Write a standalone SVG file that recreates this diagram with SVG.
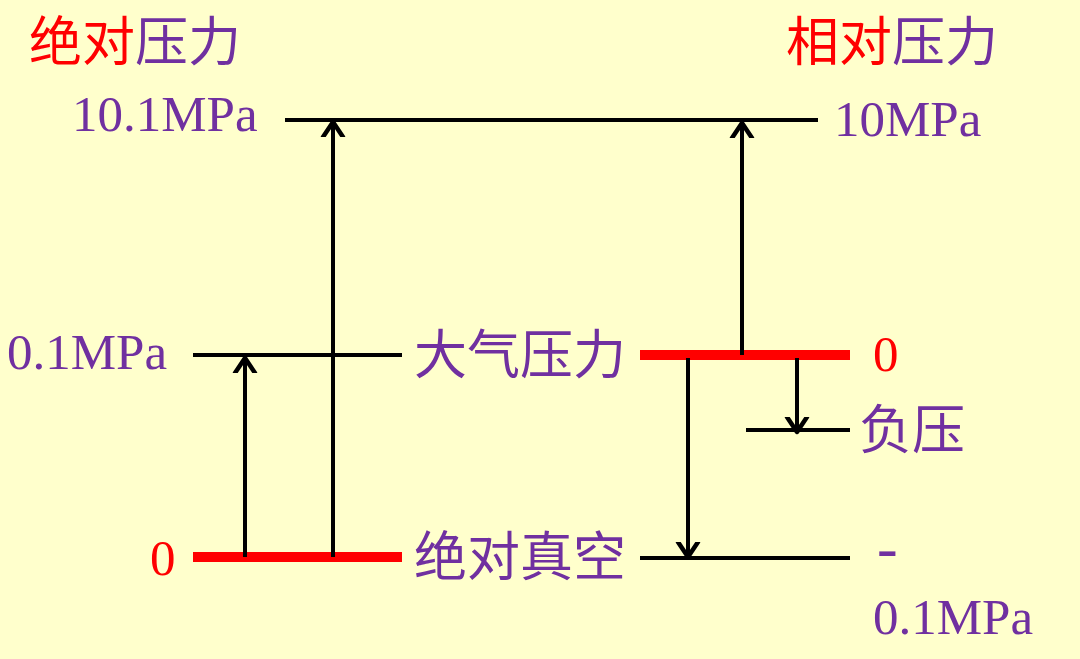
<svg xmlns="http://www.w3.org/2000/svg" width="1080" height="659" viewBox="0 0 1080 659">
<style>
.cn{font-family:"Noto Sans CJK SC","Noto Sans CJK JP",sans-serif;font-size:53px;}
.num{font-family:"Liberation Serif","Times New Roman",serif;font-size:51px;}
.p{fill:#7030A0;}
.r{fill:#FF0000;}
.lk{stroke:#000;stroke-width:4;fill:none;}
.lr{stroke:#FF0000;stroke-width:10;fill:none;}
.ar{stroke:#000;stroke-width:4;fill:none;marker-end:url(#ah);}
</style>
<defs>
<marker id="ah" markerUnits="userSpaceOnUse" markerWidth="30" markerHeight="30" viewBox="-15 -15 30 30" refX="0" refY="0" orient="auto">
<path d="M-15,-10 L0,0 L-15,10" fill="none" stroke="#000" stroke-width="4.5" stroke-linecap="round" stroke-linejoin="round"/>
</marker>
</defs>
<rect width="1080" height="659" fill="#FFFFCC"/>
<g id="title-abs"><text class="cn" x="29" y="61"><tspan class="r">绝对</tspan><tspan class="p">压力</tspan></text></g>
<g id="title-rel"><text class="cn" x="786" y="61"><tspan class="r">相对</tspan><tspan class="p">压力</tspan></text></g>
<g id="level-top">
<line class="lk" x1="285" y1="120" x2="818" y2="120"/>
<text class="num p" x="72" y="131">10.1MPa</text>
<text class="num p" x="834" y="136">10MPa</text>
</g>
<g id="level-atm">
<line class="lk" x1="193" y1="355" x2="402" y2="355"/>
<line class="lr" x1="640" y1="355" x2="850" y2="355"/>
<text class="num p" x="7" y="369">0.1MPa</text>
<text class="cn p" x="414" y="374">大气压力</text>
<text class="num r" x="873" y="371">0</text>
</g>
<g id="level-neg">
<line class="lk" x1="746" y1="430" x2="850" y2="430"/>
<text class="cn p" x="859" y="449">负压</text>
</g>
<g id="level-vac">
<line class="lr" x1="193" y1="557" x2="402" y2="557"/>
<line class="lk" x1="640" y1="558" x2="850" y2="558"/>
<text class="num r" x="150" y="575">0</text>
<text class="cn p" x="414" y="576">绝对真空</text>
<text class="num p" x="877" y="568" style="font-size:62px">-</text>
<text class="num p" x="873" y="634">0.1MPa</text>
</g>
<g id="connectors">
<line class="ar" x1="333" y1="557" x2="333" y2="122"/>
<line class="ar" x1="245" y1="557" x2="245" y2="358"/>
<line class="ar" x1="742" y1="355" x2="742" y2="123"/>
<line class="ar" x1="797" y1="358" x2="797" y2="432"/>
<line class="ar" x1="688" y1="358" x2="688" y2="557"/>
</g>
</svg>
